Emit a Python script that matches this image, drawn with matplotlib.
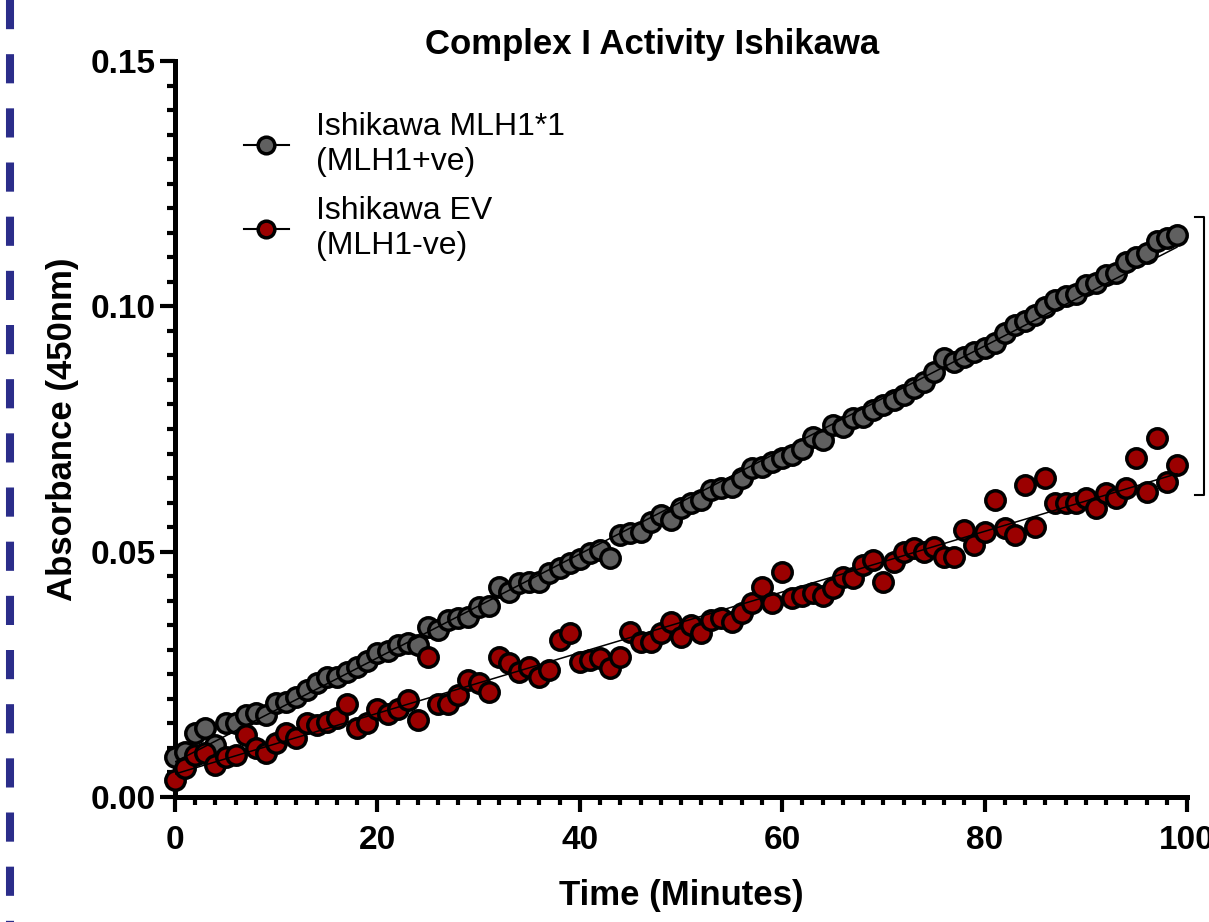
import numpy as np
import matplotlib
matplotlib.use("Agg")
import matplotlib.pyplot as plt
from matplotlib.lines import Line2D
from matplotlib.ticker import MultipleLocator

time_min = list(range(100))
mlh1_pos = [0.0082, 0.0092, 0.0130, 0.0140, 0.0106, 0.0150, 0.0150, 0.0167, 0.0171, 0.0167,
            0.0191, 0.0193, 0.0204, 0.0218, 0.0232, 0.0245, 0.0245, 0.0255, 0.0265, 0.0278,
            0.0293, 0.0298, 0.0310, 0.0314, 0.0310, 0.0346, 0.0340, 0.0360, 0.0365, 0.0367,
            0.0387, 0.0390, 0.0428, 0.0418, 0.0436, 0.0438, 0.0438, 0.0456, 0.0466, 0.0477,
            0.0485, 0.0497, 0.0503, 0.0487, 0.0534, 0.0538, 0.0540, 0.0560, 0.0574, 0.0564,
            0.0589, 0.0599, 0.0605, 0.0625, 0.0629, 0.0631, 0.0650, 0.0670, 0.0672, 0.0682,
            0.0690, 0.0697, 0.0710, 0.0733, 0.0727, 0.0758, 0.0754, 0.0772, 0.0774, 0.0788,
            0.0798, 0.0809, 0.0819, 0.0833, 0.0845, 0.0866, 0.0894, 0.0886, 0.0896, 0.0906,
            0.0916, 0.0925, 0.0945, 0.0961, 0.0971, 0.0982, 0.0998, 0.1012, 0.1022, 0.1026,
            0.1043, 0.1047, 0.1063, 0.1067, 0.1090, 0.1100, 0.1108, 0.1134, 0.1140, 0.1145]
mlh1_neg = [0.0035, 0.0059, 0.0086, 0.0090, 0.0065, 0.0082, 0.0086, 0.0126, 0.0100, 0.0090,
            0.0110, 0.0130, 0.0120, 0.0150, 0.0147, 0.0153, 0.0160, 0.0190, 0.0140, 0.0150,
            0.0180, 0.0170, 0.0180, 0.0198, 0.0157, 0.0285, 0.0190, 0.0190, 0.0208, 0.0238,
            0.0232, 0.0214, 0.0285, 0.0273, 0.0255, 0.0265, 0.0244, 0.0259, 0.0320, 0.0334,
            0.0275, 0.0279, 0.0283, 0.0262, 0.0285, 0.0336, 0.0316, 0.0316, 0.0334, 0.0356,
            0.0326, 0.0350, 0.0334, 0.0360, 0.0365, 0.0356, 0.0375, 0.0395, 0.0428, 0.0395,
            0.0458, 0.0405, 0.0410, 0.0415, 0.0410, 0.0426, 0.0448, 0.0446, 0.0473, 0.0483,
            0.0438, 0.0479, 0.0499, 0.0507, 0.0499, 0.0509, 0.0489, 0.0489, 0.0544, 0.0513,
            0.0540, 0.0605, 0.0548, 0.0534, 0.0635, 0.0550, 0.0650, 0.0599, 0.0599, 0.0599,
            0.0609, 0.0590, 0.0619, 0.0609, 0.0629, 0.0690, 0.0621, 0.0731, 0.0642, 0.0676]

labels = ["Ishikawa MLH1*1\n(MLH1+ve)", "Ishikawa EV\n(MLH1-ve)"]
colors = ["#606060", "#9b0000"]
x_ticks = [0, 20, 40, 60, 80, 100]
y_ticks = [0.00, 0.05, 0.10, 0.15]

plt.rcParams['font.family'] = ['Liberation Sans', 'DejaVu Sans']
plt.rcParams['lines.scale_dashes'] = False

W, H = 1209, 922
fig = plt.figure(figsize=(W / 100, H / 100), dpi=100)
ax = fig.add_axes([175 / W, 1 - 797 / H, (1187 - 175) / W, (797 - 61) / H])

t = np.array(time_min, dtype=float)
series = [np.array(mlh1_pos), np.array(mlh1_neg)]
for y, c in zip(series, colors):
    ax.plot(t, y, 'o', ms=14, mfc=c, mec='black', mew=2.5, clip_on=False, zorder=3)
for y in series:
    k, b = np.polyfit(t, y, 1)
    xx = np.array([t[0], t[-1]])
    ax.plot(xx, k * xx + b, color='black', lw=1.1, zorder=4)

ax.set_xlim(0, 100)
ax.set_ylim(0, 0.15)
ax.set_xticks(x_ticks)
ax.set_xticklabels([str(v) for v in x_ticks])
ax.set_yticks(y_ticks)
ax.set_yticklabels([f"{v:.2f}" for v in y_ticks])
ax.xaxis.set_minor_locator(MultipleLocator(2))
ax.yaxis.set_minor_locator(MultipleLocator(0.005))
for s in ['top', 'right']:
    ax.spines[s].set_visible(False)
for s in ['left', 'bottom']:
    ax.spines[s].set_linewidth(3.6)
ax.tick_params(which='major', length=11, width=3.0, direction='out', labelsize=24)
ax.tick_params(which='minor', length=6, width=3.0, direction='out')
ax.tick_params(axis='y', which='major', pad=3)
ax.tick_params(axis='x', which='major', pad=9)
for lab in ax.get_xticklabels() + ax.get_yticklabels():
    lab.set_fontweight('bold')

ax.set_xlabel("Time (Minutes)", fontsize=25, fontweight='bold', labelpad=17)
ax.set_ylabel("Absorbance (450nm)", fontsize=25, fontweight='bold', labelpad=8)
ax.set_title("Complex I Activity Ishikawa", fontsize=25, fontweight='bold',
             x=(652 - 175) / (1187 - 175), pad=5)

handles = [Line2D([], [], color='black', lw=1.5, marker='o', ms=12, mfc=c, mec='black', mew=2.5)
           for c in colors]
leg = ax.legend(handles, labels, loc='upper left', bbox_to_anchor=(244 / W, 1 - 112 / H),
                bbox_transform=fig.transFigure, frameon=False, fontsize=23,
                handlelength=1.4, handletextpad=0.85, labelspacing=0.62, borderpad=0,
                borderaxespad=0)

# left dashed border
fig.add_artist(Line2D([10 / W, 10 / W], [1.0, 0.0], transform=fig.transFigure,
                      color='#2b2d8a', lw=5.8, dashes=(21, 18), solid_capstyle='butt',
                      dash_capstyle='butt'))
# right bracket
bx = 1204 / W
by0, by1 = 1 - 217 / H, 1 - 495 / H
fig.add_artist(Line2D([1195 / W, bx, bx, 1195 / W], [by0, by0, by1, by1],
                      transform=fig.transFigure, color='black', lw=1.5))

fig.savefig("out.png", dpi=100)
